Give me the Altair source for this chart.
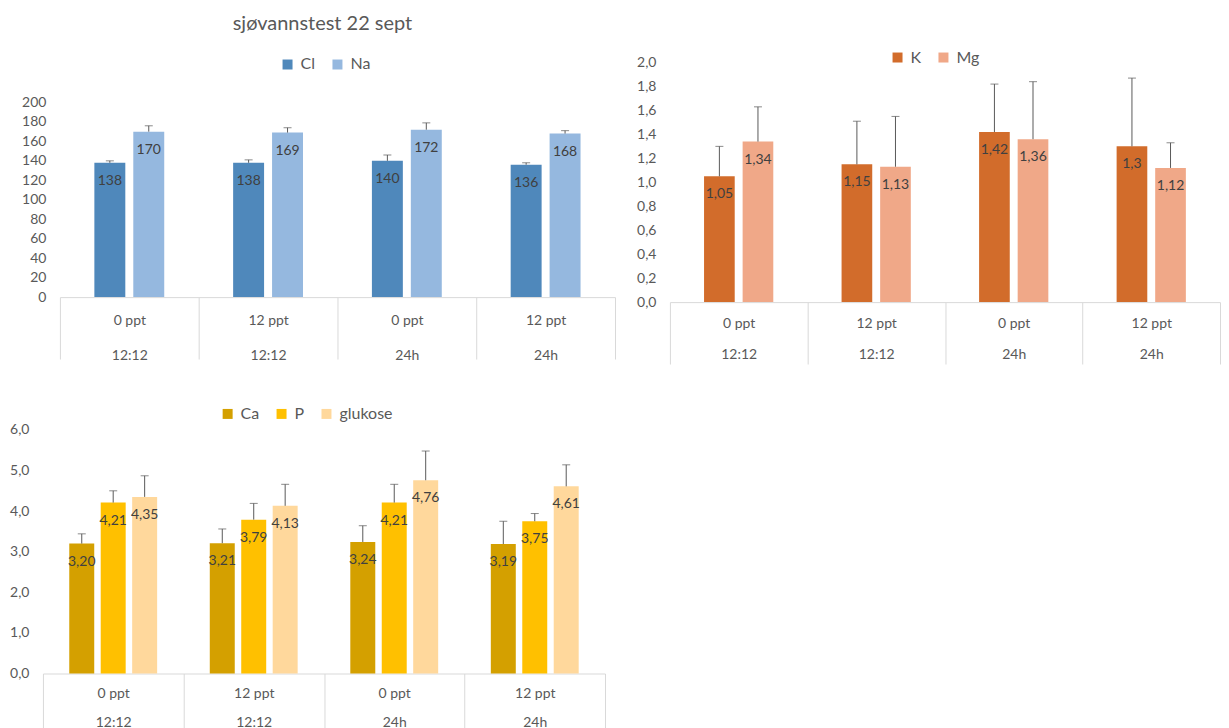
import altair as alt
import pandas as pd

FONT = "Lato"
TXT = "#595959"
GRID = "#D9D9D9"

groups = ["0 ppt|12:12", "12 ppt|12:12", "0 ppt|24h", "12 ppt|24h"]

# Panel 1: Cl / Na
p1_series = ["Cl", "Na"]
cl_values = [138, 138, 140, 136]
na_values = [170, 169, 172, 168]
cl_err = [2, 3, 6, 2]
na_err = [6, 5, 7, 3]

# Panel 2: K / Mg
p2_series = ["K", "Mg"]
k_values = [1.05, 1.15, 1.42, 1.3]
mg_values = [1.34, 1.13, 1.36, 1.12]
k_err = [0.25, 0.36, 0.40, 0.57]
mg_err = [0.29, 0.42, 0.48, 0.21]

# Panel 3: Ca / P / glukose
p3_series = ["Ca", "P", "glukose"]
ca_values = [3.20, 3.21, 3.24, 3.19]
p_values = [4.21, 3.79, 4.21, 3.75]
glu_values = [4.35, 4.13, 4.76, 4.61]
ca_err = [0.24, 0.35, 0.40, 0.56]
p_err = [0.29, 0.40, 0.45, 0.19]
glu_err = [0.52, 0.53, 0.72, 0.53]

p1_ticks = [0, 20, 40, 60, 80, 100, 120, 140, 160, 180, 200]
p2_ticks = [0, 0.2, 0.4, 0.6, 0.8, 1.0, 1.2, 1.4, 1.6, 1.8, 2.0]
p3_ticks = [0, 1, 2, 3, 4, 5, 6]


def build_df(series, values, errs, fmt):
    rows = []
    for s, vals, es in zip(series, values, errs):
        for g, v, e in zip(groups, vals, es):
            rows.append({"grp": g, "series": s, "value": v, "top": v + e, "label": fmt(v)})
    return pd.DataFrame(rows)


df1 = build_df(p1_series, [cl_values, na_values], [cl_err, na_err], lambda v: f"{v:d}")
df2 = build_df(p2_series, [k_values, mg_values], [k_err, mg_err], lambda v: f"{v:g}".replace(".", ","))
df3 = build_df(p3_series, [ca_values, p_values, glu_values], [ca_err, p_err, glu_err],
               lambda v: f"{v:.2f}".replace(".", ","))


def panel(df, series, colors, width, height, ydomain, yticks, ylabel_expr, y_extent,
          pad_inner, pad_outer, legend_x, legend_y, line_h, lab_pad,
          x_range=None, y_offset=0, title=None):
    xscale = dict(domain=groups, paddingInner=0, paddingOuter=0)
    if x_range is not None:
        xscale["range"] = x_range
    x = alt.X("grp:N", sort=groups, scale=alt.Scale(**xscale),
              axis=alt.Axis(title=None,
                            labelExpr="datum.value ? split(datum.value, '|') : ''",
                            labelAngle=0, labelFontSize=14, labelColor=TXT, labelFont=FONT,
                            labelLineHeight=line_h, labelPadding=lab_pad, labelBaseline="top",
                            labelOverlap=False,
                            tickBand="extent", tickSize=62, tickColor=GRID, tickWidth=1,
                            domainColor=GRID, domainWidth=1, grid=False))
    xo = alt.XOffset("series:N", scale=alt.Scale(domain=series, paddingInner=pad_inner,
                                                  paddingOuter=pad_outer))
    yaxis_kwargs = dict(title=None, values=yticks, domain=False, ticks=False, grid=False,
                        labelFontSize=14, labelColor=TXT, labelFont=FONT, labelPadding=14,
                        labelOverlap=False, labelSeparation=0,
                        minExtent=y_extent, maxExtent=y_extent)
    if y_offset:
        yaxis_kwargs["offset"] = y_offset
    if ylabel_expr:
        yaxis_kwargs["labelExpr"] = ylabel_expr
    yaxis = alt.Axis(**yaxis_kwargs)
    yscale = alt.Scale(domain=ydomain, nice=False, zero=True)
    y = alt.Y("value:Q", scale=yscale, axis=yaxis)
    color = alt.Color("series:N", scale=alt.Scale(domain=series, range=colors),
                      legend=alt.Legend(orient="none", legendX=legend_x, legendY=legend_y,
                                        direction="horizontal", title=None,
                                        symbolType="square", symbolSize=100,
                                        symbolStrokeWidth=0, labelFontSize=16,
                                        labelColor=TXT, labelFont=FONT,
                                        columnPadding=14, labelOffset=5))
    base = alt.Chart(df)
    bars = base.mark_bar().encode(x=x, xOffset=xo, y=y, color=color)
    err = base.mark_rule(color=TXT, strokeWidth=1).encode(
        x=x, xOffset=xo, y=y, y2="top:Q")
    cap = base.mark_tick(orient="horizontal", size=8, thickness=1, color=TXT).encode(
        x=x, xOffset=xo, y=alt.Y("top:Q", scale=yscale, axis=yaxis))
    txt = base.mark_text(dy=18, fontSize=14, color="#404040", font=FONT).encode(
        x=x, xOffset=xo, y=y, text="label:N")
    layer = alt.layer(bars, err, cap, txt).properties(width=width, height=height)
    if title is not None:
        layer = layer.properties(title=title)
    return layer


title1 = alt.TitleParams("sjøvannstest 22 sept", fontSize=20, font=FONT, fontWeight="normal",
                         color=TXT, anchor="middle", dx=-15, offset=23)

p1 = panel(df1, p1_series, ["#4F88BB", "#95B8DF"], 556, 235, [0, 241], p1_ticks, None, 52,
           0.205, 0.885, 220, -6, 35, -46, title=title1)
p2 = panel(df2, p2_series, ["#D26C2B", "#F0A888"], 551, 240, [0, 2], p2_ticks,
           "replace(format(datum.value, '.1f'), '.', ',')", 34,
           0.205, 0.885, 220, -13, 31, -48)
p3 = panel(df3, p3_series, ["#D4A000", "#FFC000", "#FFD89C"], 546, 244, [0, 6], p3_ticks,
           "replace(format(datum.value, '.1f'), '.', ',')", 35,
           0.206, 0.837, 160, -24, 29, -49, x_range=[-17, 546], y_offset=17)

top = alt.hconcat(p1, p2, spacing=20).resolve_scale(color="independent", xOffset="independent")
bottom = alt.hconcat(p3)
chart = alt.vconcat(top, bottom, spacing=41).resolve_scale(
    color="independent", xOffset="independent").properties(
    padding={"top": 5, "left": 0, "right": 0, "bottom": 0}).configure(
    font=FONT).configure_view(stroke=None)

chart.save("out.html", embed_options={"renderer": "svg", "actions": False})
